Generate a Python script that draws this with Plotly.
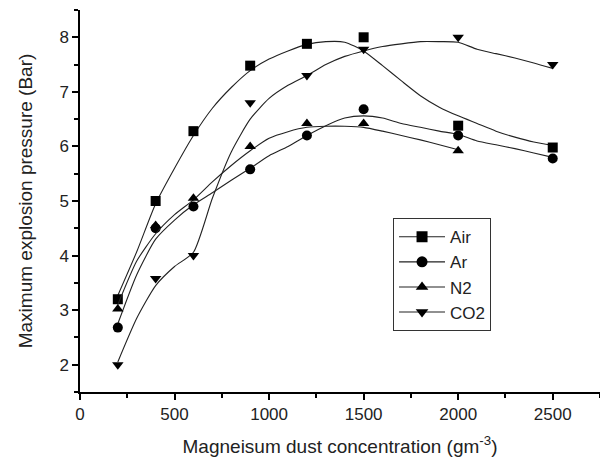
import plotly.graph_objects as go

# measured data points
conc = [200, 400, 600, 900, 1200, 1500, 2000, 2500]
air = [3.2, 5.0, 6.28, 7.48, 7.88, 8.0, 6.38, 5.98]
ar = [2.68, 4.5, 4.9, 5.58, 6.2, 6.68, 6.2, 5.78]
n2_conc = [200, 400, 600, 900, 1200, 1500, 2000]
n2 = [3.02, 4.55, 5.05, 6.0, 6.42, 6.42, 5.92]
co2 = [2.0, 3.58, 4.0, 6.8, 7.3, 7.78, 8.0, 7.5]

# fitted curves
fit_x = [200, 300, 400, 500, 600, 700, 800, 900, 1000, 1100, 1200, 1300,
         1400, 1500, 1600, 1700, 1800, 1900, 2000, 2100, 2200, 2300, 2400, 2500]
air_fit = [3.27, 4.07, 4.95, 5.6, 6.2, 6.7, 7.08, 7.39, 7.6, 7.75, 7.87, 7.92,
           7.91, 7.75, 7.48, 7.2, 6.93, 6.72, 6.56, 6.42, 6.28, 6.17, 6.08, 6.02]
ar_fit = [2.75, 3.65, 4.3, 4.65, 4.93, 5.15, 5.38, 5.6, 5.83, 6.0, 6.2, 6.38,
          6.52, 6.56, 6.52, 6.42, 6.35, 6.28, 6.22, 6.1, 6.03, 5.96, 5.88, 5.8]
n2_fit_x = fit_x[:19]
n2_fit = [3.1, 3.9, 4.4, 4.75, 5.02, 5.35, 5.65, 5.92, 6.15, 6.27, 6.35, 6.37,
          6.37, 6.35, 6.28, 6.2, 6.12, 6.03, 5.94]
co2_fit = [2.05, 2.85, 3.45, 3.8, 4.06, 5.05, 5.9, 6.5, 6.88, 7.12, 7.3, 7.5,
           7.65, 7.75, 7.83, 7.88, 7.92, 7.92, 7.91, 7.78, 7.7, 7.62, 7.53, 7.43]

series = [
    ("Air", conc, air, fit_x, air_fit, "square"),
    ("Ar", conc, ar, fit_x, ar_fit, "circle"),
    ("N2", n2_conc, n2, n2_fit_x, n2_fit, "triangle-up"),
    ("CO2", conc, co2, fit_x, co2_fit, "triangle-down"),
]

LINE = dict(color="#222222", width=1.1, shape="spline", smoothing=0.6)
FONT = "Liberation Sans, Arial"

fig = go.Figure()
for name, xs, ys, fx, fy, sym in series:
    fig.add_trace(go.Scatter(x=fx, y=fy, mode="lines", line=LINE,
                             showlegend=False, hoverinfo="skip"))
    fig.add_trace(go.Scatter(x=xs, y=ys, mode="markers", name=name,
                             marker=dict(symbol=sym, size=10, color="black"),
                             showlegend=False))
    # legend entry (line + marker)
    fig.add_trace(go.Scatter(x=[None], y=[None], mode="lines+markers", name=name,
                             line=dict(color="#222222", width=1.1),
                             marker=dict(symbol=sym, size=11, color="black")))

axis_common = dict(
    showline=True, linecolor="black", linewidth=1.5,
    ticks="outside", ticklen=6, tickwidth=1.5, tickcolor="black",
    showgrid=False, zeroline=False,
    tickfont=dict(family=FONT, size=17, color="#222"),
    title_font=dict(family=FONT, size=19, color="#222"),
)

fig.update_xaxes(
    range=[0, 2750], tickvals=[0, 500, 1000, 1500, 2000, 2500],
    minor=dict(dtick=250, tick0=0, ticks="outside", ticklen=4, tickwidth=1.5, tickcolor="black"),
    title_text="Magneisum dust concentration (gm<sup>-3</sup>)", title_standoff=17,
    **axis_common,
)
fig.update_yaxes(
    range=[1.5, 8.5], tickvals=[2, 3, 4, 5, 6, 7, 8],
    minor=dict(dtick=0.5, tick0=0, ticks="outside", ticklen=4, tickwidth=1.5, tickcolor="black"),
    title_text="Maximum explosion pressure (Bar)", title_standoff=22,
    **axis_common,
)

fig.update_layout(
    width=600, height=467,
    margin=dict(l=80, r=0, t=10, b=75),
    plot_bgcolor="white", paper_bgcolor="white",
    legend=dict(
        x=0.602, y=0.455, xanchor="left", yanchor="top",
        bordercolor="#333", borderwidth=1, bgcolor="white",
        font=dict(family=FONT, size=17, color="#222"),
        tracegroupgap=0, itemwidth=46,
    ),
)

fig.write_html("out.html")
